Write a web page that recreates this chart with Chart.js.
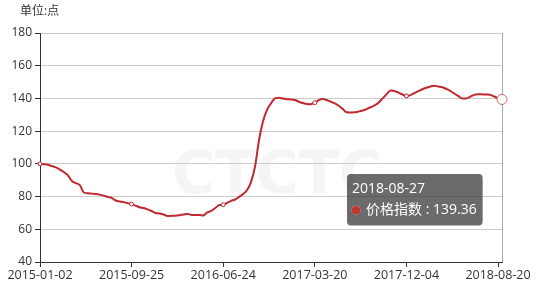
<!DOCTYPE html>
<html>
<head>
<meta charset="utf-8">
<script src="https://cdn.jsdelivr.net/npm/chart.js@4/dist/chart.umd.min.js"></script>
<style>
  html, body { margin: 0; padding: 0; background: #fff; }
  #wrap { width: 543px; height: 288px; }
</style>
</head>
<body>
<div id="wrap"><canvas id="price-chart" width="543" height="288"></canvas></div>
<script>
const UNIT_LABEL  = '单位:点';
const SERIES_NAME = '价格指数';
const tickDates   = ['2015-01-02', '2015-09-25', '2016-06-24', '2017-03-20', '2017-12-04', '2018-08-20'];
const lastDate    = '2018-08-27';
const TICK_EVERY  = 23;
const yTicks      = [40, 60, 80, 100, 120, 140, 160, 180];

const values = [
  100, 99.8, 99.4, 98.6, 97.8, 96.5, 95, 93, 89.5, 88.2,
  87, 82.5, 82, 81.8, 81.6, 81.2, 80.6, 79.8, 79.2, 77.6,
  77, 76.6, 76, 75.4, 74.5, 73.5, 73, 72.2, 71.2, 70,
  69.6, 69, 68.1, 68.2, 68.3, 68.6, 69, 69.4, 68.8, 68.7,
  68.7, 68.5, 70.3, 71.2, 73, 74.8, 75, 76.2, 77.4, 78.2,
  79.8, 81.6, 84, 89, 98.5, 114.6, 126, 133, 137, 140,
  140.4, 140, 139.5, 139.4, 139, 138, 137.2, 136.6, 136.5, 137.4,
  139, 139.6, 139, 138, 137, 135.5, 133.6, 131.5, 131.4, 131.5,
  132, 132.6, 133.5, 134.6, 135.8, 137.4, 140, 142.5, 144.8, 144.5,
  143.5, 142.4, 141.5, 142, 143.3, 144.5, 145.6, 146.5, 147.3, 147.8,
  147.3, 146.8, 145.8, 144.6, 143, 141.5, 140, 140, 141, 142.2,
  142.6, 142.5, 142.4, 142.2, 141.2, 140.2, 139.36
];

const LINE_COLOR = '#c0292f';
const FONT = '"Open Sans", "Noto Sans CJK SC", sans-serif';

const labels = values.map((v, i) => i === values.length - 1 ? lastDate
  : (i % TICK_EVERY === 0 ? tickDates[i / TICK_EVERY] || '' : ''));
const lastIdx = values.length - 1;

// watermark, unit label and the vertical axis pointer
const extras = {
  id: 'extras',
  beforeDraw(chart) {
    const ctx = chart.ctx;
    ctx.save();
    ctx.fillStyle = '#f5f5f5';
    ctx.font = 'bold 59px "DejaVu Sans", sans-serif';
    ctx.textBaseline = 'alphabetic';
    ctx.fillText('CTCTC', 172, 193);
    ctx.restore();
  },
  beforeDatasetsDraw(chart) {
    const { ctx, chartArea, scales } = chart;
    const x = Math.round(scales.x.getPixelForValue(lastIdx)) + 0.5;
    ctx.save();
    ctx.strokeStyle = '#aaa';
    ctx.lineWidth = 1;
    ctx.beginPath();
    ctx.moveTo(x, chartArea.top);
    ctx.lineTo(x, chartArea.bottom);
    ctx.stroke();
    ctx.restore();
  },
  afterDraw(chart) {
    const ctx = chart.ctx;
    ctx.save();
    ctx.fillStyle = '#333';
    ctx.font = '12px ' + FONT;
    ctx.textBaseline = 'middle';
    ctx.fillText(UNIT_LABEL, 20, 12);
    ctx.restore();
  }
};

Chart.Tooltip.positioners.fixedBox = function() {
  return { x: 351, y: 174 };
};

const ctx = document.getElementById('price-chart').getContext('2d');
const chart = new Chart(ctx, {
  type: 'line',
  data: {
    labels: labels,
    datasets: [{
      label: SERIES_NAME,
      data: values,
      borderColor: LINE_COLOR,
      borderWidth: 2,
      cubicInterpolationMode: 'monotone',
      pointRadius: values.map((v, i) => (i % TICK_EVERY === 0 && i < lastIdx - 1) ? 2 : 0),
      pointBackgroundColor: '#fff',
      pointBorderColor: LINE_COLOR,
      pointBorderWidth: 1,
      pointHoverRadius: 5,
      pointHoverBorderWidth: 1,
      pointHoverBackgroundColor: '#fff',
      pointHoverBorderColor: '#c96b70',
      fill: false
    }]
  },
  options: {
    responsive: false,
    animation: false,
    devicePixelRatio: 1,
    events: [],
    layout: { padding: { left: 0, right: 41, top: 33, bottom: 0 } },
    plugins: {
      legend: { display: false },
      tooltip: {
        enabled: true,
        position: 'fixedBox',
        xAlign: 'left',
        yAlign: 'top',
        caretSize: 0,
        caretPadding: 0,
        cornerRadius: 4,
        backgroundColor: 'rgba(50,50,50,0.72)',
        padding: { top: 7, bottom: 7, left: 5, right: 6 },
        titleFont: { family: FONT, size: 14, weight: 'normal' },
        bodyFont: { family: FONT, size: 14 },
        titleColor: '#fff',
        bodyColor: '#fff',
        titleMarginBottom: 4,
        usePointStyle: true,
        boxWidth: 8,
        boxHeight: 8,
        boxPadding: 4,
        callbacks: {
          title: items => labels[items[0].dataIndex],
          label: item => SERIES_NAME + ' : ' + item.raw,
          labelColor: () => ({ borderColor: '#c23531', backgroundColor: '#c23531' }),
          labelPointStyle: () => ({ pointStyle: 'circle', rotation: 0 })
        }
      }
    },
    scales: {
      x: {
        type: 'category',
        offset: false,
        afterFit: s => { s.height = 26; },
        afterBuildTicks: s => {
          s.ticks = s.ticks.filter(t => t.value % TICK_EVERY === 0 && t.value < lastIdx);
        },
        grid: { drawOnChartArea: false, drawTicks: true, tickLength: 5, tickColor: '#333' },
        border: { color: '#333', width: 1 },
        ticks: {
          autoSkip: false,
          maxRotation: 0,
          padding: 1,
          color: '#333',
          font: { family: FONT, size: 12.5 }
        }
      },
      y: {
        min: 40,
        max: 180,
        afterFit: s => { s.width = 40; },
        afterBuildTicks: s => { s.ticks = yTicks.map(v => ({ value: v })); },
        grid: { color: '#ccc', lineWidth: 1, drawTicks: true, tickLength: 5, tickColor: '#333' },
        border: { color: '#333', width: 1 },
        ticks: {
          padding: 3,
          color: '#333',
          font: { family: FONT, size: 12 }
        }
      }
    }
  },
  plugins: [extras]
});

const active = [{ datasetIndex: 0, index: lastIdx }];
chart.setActiveElements(active);
chart.tooltip.setActiveElements(active, { x: 502, y: 98 });
chart.update();
</script>
</body>
</html>
